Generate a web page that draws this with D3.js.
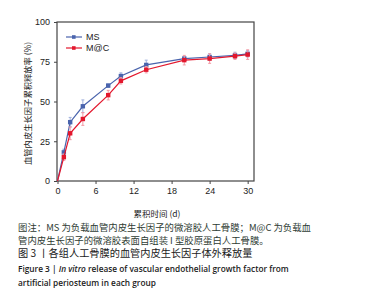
<!DOCTYPE html>
<html>
<head>
<meta charset="utf-8">
<script src="https://cdn.jsdelivr.net/npm/d3@7"></script>
<style>
  body { margin: 0; background: #fff; }
  svg { display: block; }
</style>
</head>
<body>
<div id="chart"></div>
<script>
// ---- Data ----
const days = [0, 1, 2, 4, 8, 10, 14, 20, 24, 28, 30];
const msMean = [0, 18, 37, 47, 60, 66, 73, 77, 78, 79, 80];
const msErr  = [0, 2, 3, 4, 1, 2, 3, 1, 2, 2, 2];
const mcMean = [0, 15, 30, 39, 54, 63, 70, 76, 77, 78.5, 79.5];
const mcErr  = [0, 2, 4, 4, 3, 2, 2, 3, 3, 2, 3];
const xTicks = [0, 6, 12, 18, 24, 30];
const yTicks = [0, 25, 50, 75, 100];

const series = [
  { name: "MS", mean: msMean, err: msErr, color: "#4a64ad", errColor: "#9fb0dc" },
  { name: "M@C", mean: mcMean, err: mcErr, color: "#e3172d", errColor: "#f29aa5" }
];

const noteLines = [
  "图注：MS 为负载血管内皮生长因子的微溶胶人工骨膜；M@C 为负载血",
  "管内皮生长因子的微溶胶表面自组装 I 型胶原蛋白人工骨膜。"
];

const W = 370, H = 300;
const plot = { left: 57, top: 22, right: 254, bottom: 181 };

const svg = d3.select("#chart").append("svg")
  .attr("width", W).attr("height", H);

const x = d3.scaleLinear().domain([0, 31]).range([plot.left + 0.5, plot.right]);
const y = d3.scaleLinear().domain([0, 100]).range([plot.bottom, plot.top]);

const chartFont = "'Liberation Sans', 'Noto Sans', sans-serif";
const cjk = "'Noto Sans CJK SC', sans-serif";

// ---- Axes ----
const xAxis = svg.append("g")
  .attr("transform", `translate(0,${plot.bottom})`)
  .call(d3.axisBottom(x).tickValues(xTicks).tickSize(3).tickPadding(4));
const yAxis = svg.append("g")
  .attr("transform", `translate(${plot.left},0)`)
  .call(d3.axisLeft(y).tickValues(yTicks).tickSize(3).tickPadding(4));

[xAxis, yAxis].forEach(g => {
  g.select(".domain").remove();
  g.selectAll("line").attr("stroke", "#444");
  g.selectAll("text").style("font-family", chartFont).style("font-size", "9px").attr("fill", "#222");
});

// frame
svg.append("rect")
  .attr("x", plot.left).attr("y", plot.top)
  .attr("width", plot.right - plot.left).attr("height", plot.bottom - plot.top)
  .attr("fill", "none").attr("stroke", "#444").attr("stroke-width", 1.2);

// ---- Series ----
series.forEach(s => {
  const pts = days.map((d, i) => ({ d, m: s.mean[i], e: s.err[i] }));

  svg.append("g").selectAll("g.err")
    .data(pts.filter(p => p.e > 0))
    .join("g")
    .each(function (p) {
      const g = d3.select(this);
      const cx = x(p.d);
      g.append("line")
        .attr("x1", cx).attr("x2", cx)
        .attr("y1", y(p.m - p.e)).attr("y2", y(p.m + p.e))
        .attr("stroke", s.errColor).attr("stroke-width", 1);
      [p.m - p.e, p.m + p.e].forEach(v => {
        g.append("line")
          .attr("x1", cx - 1.5).attr("x2", cx + 1.5)
          .attr("y1", y(v)).attr("y2", y(v))
          .attr("stroke", s.errColor).attr("stroke-width", 1);
      });
    });

  svg.append("path")
    .datum(pts)
    .attr("d", d3.line().x(p => x(p.d)).y(p => y(p.m)))
    .attr("fill", "none")
    .attr("stroke", s.color)
    .attr("stroke-width", 1.2);

  svg.append("g").selectAll("rect")
    .data(pts.slice(1))
    .join("rect")
    .attr("x", p => x(p.d) - 2.2).attr("y", p => y(p.m) - 2.2)
    .attr("width", 4.4).attr("height", 4.4)
    .attr("fill", s.color);
});

// ---- Legend ----
series.forEach((s, i) => {
  const ly = 37 + i * 11;
  svg.append("line")
    .attr("x1", 66).attr("x2", 82).attr("y1", ly).attr("y2", ly)
    .attr("stroke", s.color).attr("stroke-width", 1.2);
  svg.append("rect")
    .attr("x", 72).attr("y", ly - 1.8).attr("width", 3.6).attr("height", 3.6)
    .attr("fill", s.color);
  svg.append("text")
    .attr("x", 86).attr("y", ly + 3)
    .style("font-family", chartFont).style("font-size", "9px").attr("fill", "#222")
    .text(s.name);
});

// ---- Axis titles ----
svg.append("text")
  .attr("x", 157).attr("y", 217)
  .attr("text-anchor", "middle")
  .style("font-family", cjk).style("font-size", "8.5px").attr("fill", "#222")
  .text("累积时间 (d)");

svg.append("text")
  .attr("transform", `translate(31,${(plot.top + plot.bottom) / 2 + 2}) rotate(-90)`)
  .attr("text-anchor", "middle")
  .style("font-family", cjk).style("font-size", "8.3px").attr("fill", "#222")
  .text("血管内皮生长因子累积释放率 (%)");

// ---- Caption ----
noteLines.forEach((t, i) => {
  svg.append("text")
    .attr("x", 18).attr("y", 230.5 + i * 13)
    .style("font-family", cjk).style("font-size", "9.4px").attr("fill", "#2e3b33")
    .text(t);
});

svg.append("text")
  .attr("x", 18).attr("y", 257)
  .style("font-family", cjk).style("font-size", "10.2px").attr("fill", "#1a1a1a")
  .text("图 3 丨各组人工骨膜的血管内皮生长因子体外释放量");

const en = svg.append("text")
  .attr("x", 18).attr("y", 271.5)
  .style("font-family", "'Open Sans', 'Noto Sans', sans-serif")
  .style("font-size", "8.3px").style("font-weight", "600").attr("fill", "#1a1a1a");
en.append("tspan").text("Figure 3  |  ");
en.append("tspan").style("font-style", "italic").text("In vitro");
en.append("tspan").text(" release of vascular endothelial growth factor from");

svg.append("text")
  .attr("x", 18).attr("y", 285.5)
  .style("font-family", "'Open Sans', 'Noto Sans', sans-serif")
  .style("font-size", "8.3px").style("font-weight", "600").attr("fill", "#1a1a1a")
  .text("artificial periosteum in each group");
</script>
</body>
</html>
